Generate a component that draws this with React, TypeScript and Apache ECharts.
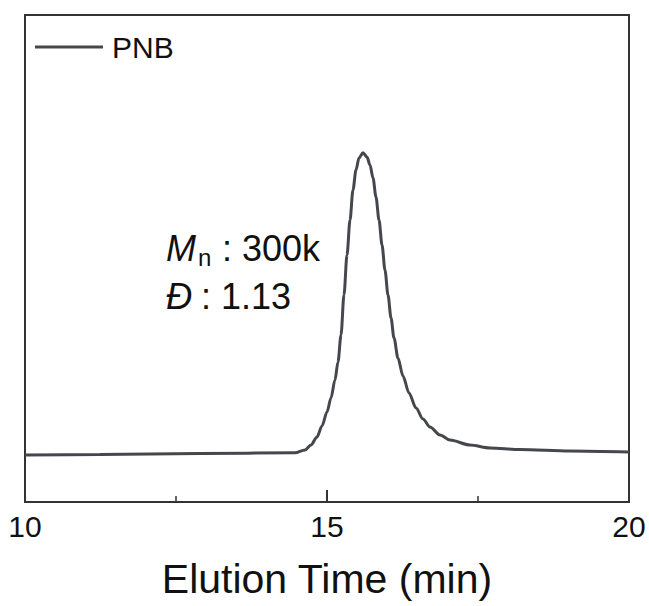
import React, { useEffect, useRef } from "react";
import * as echarts from "echarts";

const elutionTime: number[] = [
  10.0, 11.24, 12.9, 14.47, 14.636, 14.735, 14.834, 14.917, 15.0, 15.066, 15.132,
  15.182, 15.232, 15.281, 15.331, 15.381, 15.43, 15.48, 15.53, 15.596, 15.662,
  15.712, 15.762, 15.811, 15.861, 15.911, 15.96, 16.01, 16.06, 16.109, 16.175,
  16.258, 16.358, 16.474, 16.589, 16.705, 16.871, 17.036, 17.367, 17.699, 18.195,
  19.023, 20.0,
];
const intensity: number[] = [
  9.65, 9.75, 9.96, 10.1, 10.68, 11.7, 13.35, 15.61, 18.48, 21.36, 25.05, 28.75,
  34.29, 42.51, 50.72, 57.91, 64.07, 68.17, 70.64, 71.72, 70.84, 69.2, 66.53,
  62.63, 57.91, 52.77, 47.64, 42.51, 37.78, 33.68, 29.57, 25.87, 22.38, 19.3,
  17.04, 15.4, 13.76, 12.73, 11.7, 11.09, 10.78, 10.47, 10.27,
];
const seriesName = "PNB";
const xTicks = { min: 10, max: 20, interval: 5 };
const xTitle = "Elution Time (min)";
const mnLabel = { symbol: "M", sub: "n", value: " : 300k" };
const dLabel = { symbol: "\u0110", value: " : 1.13" };

const FONT = "Arial, 'Liberation Sans', sans-serif";
const LINE = "#44484d";

export default function App() {
  const ref = useRef<HTMLDivElement>(null);
  useEffect(() => {
    if (!ref.current) return;
    const chart = echarts.init(ref.current, undefined, { renderer: "svg" });
    const data = elutionTime.map((t, i) => [t, intensity[i]]);
    const textBase = { fontFamily: FONT, fill: "#111" };
    chart.setOption({
      animation: false,
      backgroundColor: "#fff",
      grid: {
        left: 25,
        right: 20,
        top: 15,
        bottom: 104,
        show: true,
        borderColor: "#333",
        borderWidth: 2,
        containLabel: false,
      },
      legend: {
        left: 35,
        top: 32,
        padding: 0,
        icon: "rect",
        itemWidth: 68,
        itemHeight: 3,
        textStyle: { fontFamily: FONT, fontSize: 30, color: "#111", padding: [0, 0, 0, 4] },
        data: [seriesName],
      },
      xAxis: {
        type: "value",
        min: xTicks.min,
        max: xTicks.max,
        interval: xTicks.interval,
        name: xTitle,
        nameLocation: "middle",
        nameGap: 56,
        nameTextStyle: { fontFamily: FONT, fontSize: 41, color: "#111" },
        axisLine: { show: true, lineStyle: { color: "#333", width: 2 } },
        axisTick: { show: true, inside: true, length: 12, lineStyle: { color: "#333", width: 2 } },
        minorTick: { show: true, splitNumber: 2, length: 6, lineStyle: { color: "#333", width: 1.5 } },
        axisLabel: { fontFamily: FONT, fontSize: 30, color: "#111", margin: 9 },
        splitLine: { show: false },
        minorSplitLine: { show: false },
      },
      yAxis: {
        type: "value",
        min: 0,
        max: 100,
        show: false,
      },
      series: [
        {
          name: seriesName,
          type: "line",
          data,
          showSymbol: false,
          smooth: 0.3,
          smoothMonotone: "x",
          lineStyle: { color: LINE, width: 3 },
          itemStyle: { color: LINE },
        },
      ],
      graphic: [
        {
          type: "group",
          left: 166,
          top: 230,
          children: [
            { type: "text", x: 0, y: 0, style: { ...textBase, text: mnLabel.symbol, fontSize: 36, fontStyle: "italic" } },
            { type: "text", x: 32, y: 15, style: { ...textBase, text: mnLabel.sub, fontSize: 24 } },
            { type: "text", x: 46, y: 0, style: { ...textBase, text: mnLabel.value, fontSize: 36 } },
            { type: "text", x: 0, y: 48, style: { ...textBase, text: dLabel.symbol, fontSize: 36, fontStyle: "italic" } },
            { type: "text", x: 25, y: 48, style: { ...textBase, text: dLabel.value, fontSize: 36 } },
          ],
        },
      ],
    });
    return () => chart.dispose();
  }, []);
  return <div ref={ref} style={{ position: "absolute", left: 0, top: 0, width: 649, height: 606 }} />;
}
